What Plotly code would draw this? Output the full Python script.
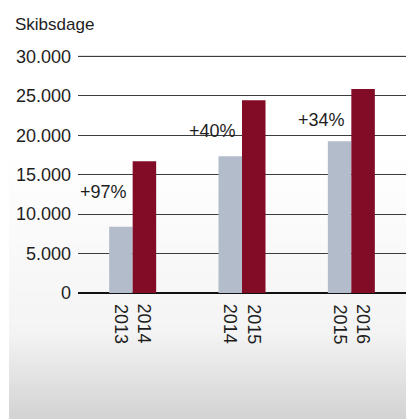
import plotly.graph_objects as go

# data
groups = ['2013-2014', '2014-2015', '2015-2016']
first_year = ['2013', '2014', '2015']
second_year = ['2014', '2015', '2016']
first_days = [8400, 17350, 19250]
second_days = [16700, 24450, 25850]
growth_labels = ['+97%', '+40%', '+34%']
y_ticks = [0, 5000, 10000, 15000, 20000, 25000, 30000]
y_tick_text = ['0', '5.000', '10.000', '15.000', '20.000', '25.000', '30.000']

font_family = 'Liberation Sans, Arial, sans-serif'
text_color = '#1e1e1e'
bargap = 0.57

W, H = 406, 419
ml, mr, mt, mb = 78, 0, 54, 126
plot_h = H - mt - mb
plot_w = W - ml - mr

fig = go.Figure()
fig.add_trace(go.Bar(x=groups, y=first_days, name='first',
                     marker=dict(color='#b3bccb', line=dict(width=0))))
fig.add_trace(go.Bar(x=groups, y=second_days, name='second',
                     marker=dict(color='#820b26', line=dict(width=0))))

# grey backdrop panel, fading in towards the bottom
def px_to_paper_y(py):
    return (H - mb - py) / plot_h

panel_x0 = (9 - ml) / plot_w
step = 3
for py in range(150, H, step):
    if py < 330:
        v = 255 - (py - 150) / 180 * 11
    else:
        v = 244 - (py - 330) / 89 * 34
    v = int(round(v))
    fig.add_shape(type='rect', xref='paper', yref='paper', layer='below',
                  x0=panel_x0, x1=1.0, y0=px_to_paper_y(py + step), y1=px_to_paper_y(py),
                  fillcolor=f'rgb({v},{v},{v})', line=dict(width=0))

# plotly drops the top gridline, so draw it as a line
fig.add_shape(type='line', xref='paper', yref='y', x0=0, x1=1,
              y0=y_ticks[-1], y1=y_ticks[-1], layer='below',
              line=dict(color='#222222', width=1))

annotations = []
offset = (1 - bargap) / 4
for i in range(len(groups)):
    for yr, dx in ((first_year[i], -offset), (second_year[i], offset)):
        annotations.append(dict(x=i + dx, y=0, xref='x', yref='y', text=yr,
                                textangle=90, showarrow=False, xanchor='center',
                                yanchor='top', yshift=-9,
                                font=dict(size=18, color=text_color, family=font_family)))
    annotations.append(dict(x=i - 0.27, y=second_days[i], xref='x', yref='y',
                            text=growth_labels[i], showarrow=False, xanchor='center',
                            yanchor='middle', yshift=-31,
                            font=dict(size=18, color=text_color, family=font_family)))

annotations.append(dict(x=(13 - ml) / plot_w, y=px_to_paper_y(25), xref='paper', yref='paper',
                        text='Skibsdage', showarrow=False, xanchor='left', yanchor='middle',
                        font=dict(size=17, color=text_color, family=font_family)))

fig.update_layout(
    width=W, height=H,
    margin=dict(l=ml, r=mr, t=mt, b=mb),
    barmode='group', bargap=bargap, bargroupgap=0,
    showlegend=False,
    paper_bgcolor='white', plot_bgcolor='rgba(0,0,0,0)',
    font=dict(family=font_family, color=text_color, size=18),
    annotations=annotations,
)
fig.update_xaxes(showticklabels=False, showgrid=False, zeroline=False, showline=False,
                 range=[-0.5, 2.5])
fig.update_yaxes(range=[0, 30300], tickvals=y_ticks, ticktext=y_tick_text,
                 showgrid=True, gridcolor='#3c3c3c', gridwidth=1,
                 zeroline=True, zerolinecolor='#111111', zerolinewidth=2,
                 showline=False, ticks='', ticklabelstandoff=6,
                 tickfont=dict(size=18, color=text_color, family=font_family))

# drop the default page margin so the figure fills the window
fig.write_html('out.html', config={'displayModeBar': False},
               post_script="document.body.style.margin='0';document.body.style.overflow='hidden';")
